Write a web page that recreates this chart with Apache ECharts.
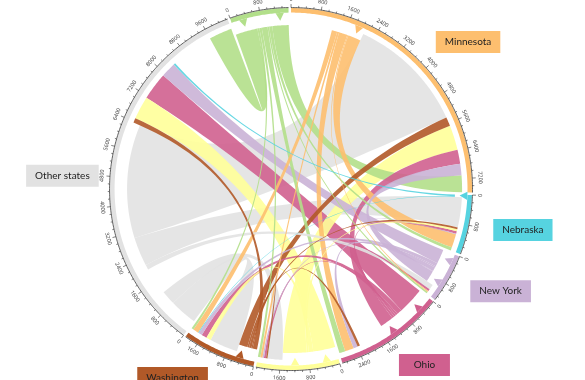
<!DOCTYPE html>
<html><head><meta charset="utf-8">
<script src="https://cdn.jsdelivr.net/npm/echarts@6/dist/echarts.min.js"></script>
<style>html,body{margin:0;padding:0;background:#fff}#c{width:585px;height:380px}</style>
</head><body><div id="c"></div>
<script>
// ---- data ----
const nodeNames = ['Iowa', 'Minnesota', 'Nebraska', 'New York', 'Ohio', 'Illinois', 'Washington', 'Other states'];
const nodeColors = ['#b2df8a', '#fdbf6f', '#56d3e0', '#cab2d6', '#d0608f', '#ffff99', '#b15928', '#e2e2e2'];
const flows = [
  ['Iowa', 'Other states', 650], ['Iowa', 'Washington', 60], ['Iowa', 'Illinois', 70], ['Iowa', 'Ohio', 170],
  ['Iowa', 'New York', 50], ['Iowa', 'Nebraska', 90], ['Iowa', 'Minnesota', 480],
  ['Minnesota', 'Other states', 1200], ['Minnesota', 'Washington', 160], ['Minnesota', 'Illinois', 60],
  ['Minnesota', 'Ohio', 250], ['Minnesota', 'New York', 30], ['Minnesota', 'Nebraska', 380],
  ['Nebraska', 'Other states', 50], ['Nebraska', 'Washington', 20],
  ['New York', 'Other states', 420], ['New York', 'Washington', 100], ['New York', 'Illinois', 40],
  ['New York', 'Ohio', 120], ['New York', 'Nebraska', 20], ['New York', 'Minnesota', 320],
  ['Ohio', 'Other states', 780], ['Ohio', 'Washington', 150], ['Ohio', 'Illinois', 60],
  ['Ohio', 'New York', 60], ['Ohio', 'Nebraska', 70], ['Ohio', 'Minnesota', 400],
  ['Illinois', 'Other states', 650], ['Illinois', 'Washington', 130], ['Illinois', 'Nebraska', 60], ['Illinois', 'Minnesota', 700],
  ['Washington', 'Other states', 130], ['Washington', 'Illinois', 40], ['Washington', 'Ohio', 70],
  ['Washington', 'Nebraska', 50], ['Washington', 'Minnesota', 250],
  ['Other states', 'Washington', 800], ['Other states', 'Illinois', 420], ['Other states', 'Ohio', 800],
  ['Other states', 'New York', 150], ['Other states', 'Nebraska', 850], ['Other states', 'Minnesota', 3350]
];
const hiddenFlows = [['Minnesota', 'Other states'], ['Other states', 'Ohio']];
const noArrowNodes = ['Other states'];
const tickStep = 200;
const labelStep = 800;

// ---- layout (computed from the data) ----
const N = nodeNames.length;
const idx = {}; nodeNames.forEach((n, i) => idx[n] = i);
const F = flows.map(f => ({
  s: idx[f[0]], t: idx[f[1]], v: f[2],
  hidden: hiddenFlows.some(h => h[0] === f[0] && h[1] === f[1])
}));
const totals = new Array(N).fill(0);
F.forEach(f => { totals[f.s] += f.v; totals[f.t] += f.v; });
const GAP = 0.8;
const sumT = totals.reduce((a, b) => a + b, 0);
const K = (360 - GAP * N) / sumT;
const nodeStart = [], nodeEnd = [];
let acc = -(totals[0] * K + GAP);
for (let i = 0; i < N; i++) { nodeStart[i] = acc; nodeEnd[i] = acc + totals[i] * K; acc = nodeEnd[i] + GAP; }
const srcSeg = [], tgtSeg = [];
const outsOf = [];
for (let i = 0; i < N; i++) {
  let cur = nodeStart[i];
  const outs = F.map((f, k) => k).filter(k => F[k].s === i).sort((a, b) => F[b].t - F[a].t);
  const ins = F.map((f, k) => k).filter(k => F[k].t === i).sort((a, b) => F[b].s - F[a].s);
  outs.forEach(k => { srcSeg[k] = [cur, cur + F[k].v * K]; cur += F[k].v * K; });
  ins.forEach(k => { tgtSeg[k] = [cur, cur + F[k].v * K]; cur += F[k].v * K; });
  outsOf[i] = outs.filter(k => !F[k].hidden);
}
const arrowLinks = [];
for (let i = 0; i < N; i++) {
  if (noArrowNodes.indexOf(nodeNames[i]) >= 0) continue;
  const big = outsOf[i].filter(k => F[k].v >= 300);
  if (big.length) big.forEach(k => arrowLinks.push(k));
  else if (outsOf[i].length) arrowLinks.push(outsOf[i].reduce((a, b) => F[b].v > F[a].v ? b : a));
}
const drawOrder = F.map((f, k) => k).filter(k => !F[k].hidden).sort((a, b) => F[b].v - F[a].v);

const labelFont = '10px Lato';
const labelAngleShift = { 'Other states': -4, 'Ohio': 2.5, 'Minnesota': -1 };
const labelRadius = { 'Other states': 1.065 };
const mctx = document.createElement('canvas').getContext('2d');
mctx.font = labelFont;

function geo(api) {
  const w = api.getWidth(), h = api.getHeight();
  return { cx: w * 0.4975, cy: h * 0.4975, R: h * 0.4763 };
}
function pt(g, deg, r) {
  const a = deg * Math.PI / 180;
  return [g.cx + r * Math.sin(a), g.cy - r * Math.cos(a)];
}
function arcPts(g, a0, a1, r) {
  const n = Math.max(2, Math.ceil(Math.abs(a1 - a0) / 0.5));
  const out = [];
  for (let j = 0; j <= n; j++) out.push(pt(g, a0 + (a1 - a0) * j / n, r));
  return out;
}
function quad(p0, c, p2) {
  const out = [];
  for (let j = 1; j <= 40; j++) {
    const t = j / 40, u = 1 - t;
    out.push([u * u * p0[0] + 2 * u * t * c[0] + t * t * p2[0], u * u * p0[1] + 2 * u * t * c[1] + t * t * p2[1]]);
  }
  return out;
}

function renderRibbon(params, api) {
  const k = drawOrder[params.dataIndex];
  const g = geo(api);
  const rs = g.R * 0.906, rt = g.R * 0.945;
  const s = srcSeg[k], t = tgtSeg[k];
  const c = [g.cx, g.cy];
  let pts = arcPts(g, s[0], s[1], rs);
  pts = pts.concat(quad(pts[pts.length - 1], c, pt(g, t[0], rt)));
  pts = pts.concat(arcPts(g, t[0], t[1], rt));
  pts = pts.concat(quad(pts[pts.length - 1], c, pt(g, s[0], rs)));
  return { type: 'polygon', shape: { points: pts }, style: { fill: nodeColors[F[k].s], opacity: 0.9 } };
}

function renderNode(params, api) {
  const i = params.dataIndex;
  const g = geo(api);
  const R = g.R;
  const ch = [];
  const band = arcPts(g, nodeStart[i], nodeEnd[i], R * 0.975).concat(arcPts(g, nodeEnd[i], nodeStart[i], R));
  ch.push({ type: 'polygon', shape: { points: band }, style: { fill: nodeColors[i] } });
  ch.push({ type: 'polyline', shape: { points: arcPts(g, nodeStart[i], nodeEnd[i], R + 0.5) }, style: { stroke: '#333', lineWidth: 0.8, fill: null } });
  for (let v = 0; v <= totals[i] + 1e-6; v += tickStep) {
    const a = nodeStart[i] + v * K;
    const major = v % labelStep === 0;
    const p0 = pt(g, a, R + 0.5), p1 = pt(g, a, R + (major ? 4 : 2.3));
    ch.push({ type: 'line', shape: { x1: p0[0], y1: p0[1], x2: p1[0], y2: p1[1] }, style: { stroke: '#333', lineWidth: 0.6 } });
    if (major) {
      const lp = pt(g, a, R + 8.5);
      const an = ((a % 360) + 360) % 360;
      const rot = (an > 90 && an < 270) ? (180 - an) : -an;
      ch.push({ type: 'text', x: lp[0], y: lp[1], rotation: rot * Math.PI / 180,
        style: { text: String(v), fill: '#444', fontSize: 5.5, fontFamily: 'Noto Sans', align: 'center', verticalAlign: 'middle' } });
    }
  }
  arrowLinks.filter(k => F[k].s === i).forEach(k => {
    const s = srcSeg[k];
    const m = (s[0] + s[1]) / 2;
    const hw = 4.2 / (R * 0.975) * 180 / Math.PI;
    ch.push({ type: 'polygon', shape: { points: [pt(g, m - hw, R * 0.975), pt(g, m + hw, R * 0.975), pt(g, m, R * 0.932)] },
      style: { fill: nodeColors[i] } });
  });
  const mid = (nodeStart[i] + nodeEnd[i]) / 2 + (labelAngleShift[nodeNames[i]] || 0);
  const an = ((mid % 360) + 360) % 360;
  const lp = pt(g, mid, R * (labelRadius[nodeNames[i]] || 1.14));
  const tw = mctx.measureText(nodeNames[i]).width;
  const ph = Math.max(9, (51 - tw) / 2);
  ch.push({ type: 'text', x: lp[0], y: lp[1],
    style: { text: nodeNames[i], fill: '#222', font: labelFont, backgroundColor: nodeColors[i],
      padding: [6, ph, 6, ph], align: an < 180 ? 'left' : 'right', verticalAlign: 'middle' } });
  return { type: 'group', children: ch };
}

const chart = echarts.init(document.getElementById('c'));
chart.setOption({
  animation: false,
  backgroundColor: '#ffffff',
  series: [
    { type: 'custom', coordinateSystem: 'none', renderItem: renderRibbon, data: drawOrder.map(k => [F[k].v]), z: 1, silent: true },
    { type: 'custom', coordinateSystem: 'none', renderItem: renderNode, data: nodeNames.map((n, i) => [totals[i]]), z: 2, silent: true }
  ]
});
</script></body></html>
